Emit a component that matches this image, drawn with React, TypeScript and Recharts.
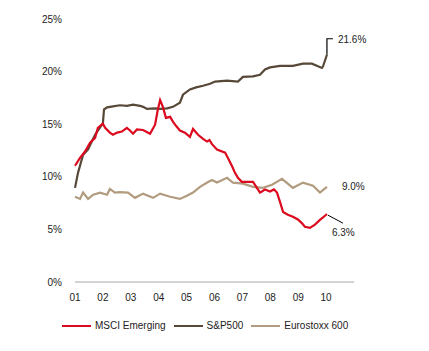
import { LineChart, Line, XAxis, YAxis } from 'recharts'

const FONT = '"Liberation Sans", Arial, sans-serif'

const yearTicks = [0, 1, 2, 3, 4, 5, 6, 7, 8, 9]
const yearLabels = ['01', '02', '03', '04', '05', '06', '07', '08', '09', '10']
const pctTicks = [0, 5, 10, 15, 20, 25]

// years since start of 2001
const msciTime = [
  0, 0.18, 0.36, 0.54, 0.72, 0.82, 1.0, 1.08, 1.25, 1.36, 1.51, 1.68, 1.86, 1.97, 2.08, 2.22, 2.44, 2.69, 2.87,
  2.97, 3.05, 3.15, 3.26, 3.41, 3.51, 3.62, 3.76, 3.94, 4.12, 4.23, 4.41, 4.59, 4.73, 4.82, 4.91, 5.09, 5.38,
  5.5, 5.63, 5.73, 5.84, 5.98, 6.2, 6.38, 6.52, 6.63, 6.7, 6.81, 6.99, 7.13, 7.24, 7.35, 7.46, 7.63, 7.81, 7.99,
  8.13, 8.24, 8.42, 8.6, 8.78, 8.96, 9.03,
]
const msciValues = [
  11.05, 11.8, 12.4, 13.25, 13.7, 14.65, 15.05, 14.65, 14.2, 14.0, 14.2, 14.3, 14.65, 14.4, 14.1, 14.5, 14.45, 14.1,
  14.95, 16.4, 17.3, 16.65, 15.6, 15.7, 15.25, 14.85, 14.4, 14.2, 13.8, 14.55, 14.0, 13.6, 13.35, 13.5, 13.1, 12.6,
  12.3, 11.7, 11.0, 10.4, 9.9, 9.52, 9.52, 9.52, 8.95, 8.5, 8.6, 8.8, 8.6, 8.8, 8.5, 7.6, 6.65, 6.4, 6.2, 5.95,
  5.6, 5.25, 5.15, 5.45, 5.9, 6.3, 6.45,
]

const sp500Time = [
  0, 0.11, 0.29, 0.47, 0.61, 0.72, 0.9, 1.0, 1.04, 1.15, 1.36, 1.61, 1.86, 2.08, 2.33, 2.44, 2.58, 2.87, 3.05,
  3.3, 3.51, 3.76, 3.87, 4.12, 4.34, 4.59, 4.84, 5.02, 5.45, 5.84, 6.02, 6.38, 6.63, 6.81, 6.99, 7.35, 7.81, 8.17,
  8.49, 8.71, 8.85, 8.89, 9.03,
]
const sp500Values = [
  8.95, 10.4, 12.1, 12.6, 13.4, 14.0, 14.7, 15.1, 16.4, 16.6, 16.7, 16.8, 16.75, 16.85, 16.75, 16.65, 16.45, 16.5,
  16.45, 16.5, 16.65, 17.05, 17.8, 18.3, 18.5, 18.65, 18.85, 19.05, 19.15, 19.05, 19.5, 19.55, 19.7, 20.2, 20.4,
  20.55, 20.55, 20.75, 20.75, 20.5, 20.35, 20.5, 21.6,
]

const euroTime = [
  0, 0.18, 0.29, 0.47, 0.65, 0.9, 1.15, 1.25, 1.43, 1.61, 1.9, 2.15, 2.44, 2.8, 3.05, 3.41, 3.76, 4.01, 4.23,
  4.48, 4.77, 4.91, 5.09, 5.45, 5.66, 6.02, 6.38, 6.74, 7.06, 7.42, 7.81, 8.17, 8.53, 8.78, 9.03,
]
const euroValues = [
  8.1, 7.9, 8.5, 7.9, 8.3, 8.5, 8.3, 8.85, 8.5, 8.55, 8.5, 8.0, 8.4, 8.0, 8.4, 8.1, 7.9, 8.2, 8.5, 9.05, 9.5, 9.7,
  9.45, 9.9, 9.45, 9.35, 9.05, 8.95, 9.25, 9.8, 8.95, 9.45, 9.15, 8.5, 9.05,
]

const rows = (t: number[], v: number[]) => t.map((x, i) => ({ t: x, v: v[i] }))

const msciData = rows(msciTime, msciValues)
const sp500Data = rows(sp500Time, sp500Values)
const euroData = rows(euroTime, euroValues)

const RED = '#dc0a1e'
const BROWN = '#574838'
const TAN = '#b29c80'
const TEXT = '#222'

const txt = { fontFamily: FONT, fontSize: 10, fill: TEXT }

const endLabel = (len: number, label: string, kind: 'sp' | 'euro' | 'msci') => (p: any) => {
  const { cx, cy, index } = p
  if (index !== len - 1) return <g key={`d${kind}${index}`} />
  if (kind === 'sp') {
    return (
      <g key={`d${kind}${index}`}>
        <path d={`M${cx},${cy} L${cx},${cy - 16} L${cx + 6},${cy - 16}`} stroke="#000" fill="none" strokeWidth={1.2} />
        <text x={cx + 11} y={cy - 14} dominantBaseline="middle" {...txt}>{label}</text>
      </g>
    )
  }
  if (kind === 'euro') {
    return (
      <g key={`d${kind}${index}`}>
        <text x={cx + 15} y={cy + 1} dominantBaseline="middle" {...txt}>{label}</text>
      </g>
    )
  }
  return (
    <g key={`d${kind}${index}`}>
      <line x1={cx + 1} y1={cy + 1} x2={cx + 16} y2={cy + 9} stroke="#000" strokeWidth={1} />
      <text x={cx + 5} y={cy + 19} dominantBaseline="middle" {...txt}>{label}</text>
    </g>
  )
}

const legendItems = [
  { name: 'MSCI Emerging', color: RED },
  { name: 'S&P500', color: BROWN },
  { name: 'Eurostoxx 600', color: TAN },
]

export default function App() {
  return (
    <div style={{ position: 'absolute', left: 0, top: 0, width: 429, height: 351, background: '#fff' }}>
      <LineChart width={429} height={351} margin={{ top: 19, right: 75, bottom: 39, left: 0 }}>
        <XAxis
          dataKey="t"
          type="number"
          domain={[0, 10]}
          ticks={yearTicks}
          tickFormatter={(v: number) => yearLabels[v]}
          height={30}
          tickLine={false}
          tickSize={0}
          tickMargin={12}
          axisLine={{ stroke: '#d3d3d3', strokeWidth: 2 }}
          tick={{ ...txt }}
          interval={0}
          allowDuplicatedCategory={false}
        />
        <YAxis
          type="number"
          domain={[0, 25]}
          ticks={pctTicks}
          tickFormatter={(v: number) => `${v}%`}
          width={75}
          axisLine={false}
          tickLine={false}
          tickSize={0}
          tickMargin={13}
          tick={{ ...txt }}
          interval={0}
        />
        <Line
          data={euroData}
          dataKey="v"
          name="Eurostoxx 600"
          type="linear"
          stroke={TAN}
          strokeWidth={2.2}
          dot={endLabel(euroData.length, '9.0%', 'euro')}
          activeDot={false}
          isAnimationActive={false}
        />
        <Line
          data={sp500Data}
          dataKey="v"
          name="S&P500"
          type="linear"
          stroke={BROWN}
          strokeWidth={2.2}
          dot={endLabel(sp500Data.length, '21.6%', 'sp')}
          activeDot={false}
          isAnimationActive={false}
        />
        <Line
          data={msciData}
          dataKey="v"
          name="MSCI Emerging"
          type="linear"
          stroke={RED}
          strokeWidth={2.2}
          dot={endLabel(msciData.length, '6.3%', 'msci')}
          activeDot={false}
          isAnimationActive={false}
        />
      </LineChart>
      <div
        style={{
          position: 'absolute',
          left: 62,
          top: 320,
          display: 'flex',
          alignItems: 'center',
          fontFamily: FONT,
          fontSize: 10,
          color: TEXT,
          whiteSpace: 'nowrap',
        }}
      >
        {legendItems.map((it) => (
          <div key={it.name} style={{ display: 'flex', alignItems: 'center', marginRight: 8 }}>
            <span style={{ display: 'inline-block', width: 29, height: 2, background: it.color, marginRight: 4 }} />
            <span>{it.name}</span>
          </div>
        ))}
      </div>
    </div>
  )
}
